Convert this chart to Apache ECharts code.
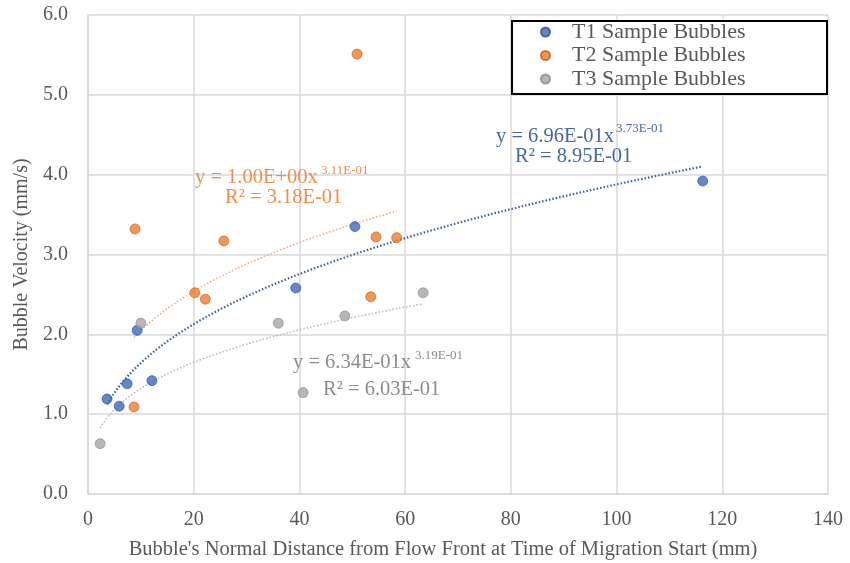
<!DOCTYPE html>
<html><head><meta charset="utf-8">
<script src="https://cdn.jsdelivr.net/npm/echarts@6/dist/echarts.min.js"></script>
<style>html,body{margin:0;padding:0;background:#fff}#c{width:850px;height:563px}</style>
</head><body><div id="c"></div>
<script>
const seriesNames = ['T1 Sample Bubbles', 'T2 Sample Bubbles', 'T3 Sample Bubbles'];
const t1X = [3.6, 5.9, 7.4, 9.3, 12.1, 39.3, 50.5, 116.3];
const t1Y = [1.19, 1.10, 1.38, 2.05, 1.42, 2.58, 3.35, 3.92];
const t2X = [8.9, 8.7, 20.2, 22.2, 25.7, 50.9, 53.5, 54.5, 58.4];
const t2Y = [3.32, 1.09, 2.52, 2.44, 3.17, 5.51, 2.47, 3.22, 3.21];
const t3X = [2.3, 10.0, 36.0, 40.7, 48.6, 63.4];
const t3Y = [0.63, 2.14, 2.14, 1.27, 2.23, 2.52];
const trendA = [0.696, 1.00, 0.634];
const trendB = [0.373, 0.311, 0.319];
const trendAText = ['6.96E-01', '1.00E+00', '6.34E-01'];
const trendBText = ['3.73E-01', '3.11E-01', '3.19E-01'];
const r2Text = ['8.95E-01', '3.18E-01', '6.03E-01'];
const xAxisName = "Bubble's Normal Distance from Flow Front at Time of Migration Start (mm)";
const yAxisName = 'Bubble Velocity (mm/s)';

const colors = ['#4068BE', '#ED7D31', '#A5A5A5'];
const borders = ['#2F4F8F', '#C55A11', '#888888'];
const trendColors = ['#3B5C9E', '#F0A878', '#B7B7B7'];
const trendWidths = [2.2, 1.5, 1.5];
const FONT = '"Liberation Serif", "Times New Roman", serif';
const TXT = '#595959';

const xs = [t1X, t2X, t3X], ys = [t1Y, t2Y, t3Y];
const series = [];
xs.forEach((X, i) => {
  series.push({
    name: seriesNames[i], type: 'scatter', symbolSize: 10, z: 5,
    itemStyle: { color: colors[i], borderColor: borders[i], borderWidth: 0.8 },
    data: X.map((x, k) => [x, ys[i][k]])
  });
});
xs.forEach((X, i) => {
  const lo = Math.min(...X), hi = Math.max(...X), n = 120;
  const pts = [];
  for (let k = 0; k <= n; k++) {
    const x = lo + (hi - lo) * k / n;
    pts.push([x, trendA[i] * Math.pow(x, trendB[i])]);
  }
  series.push({
    type: 'line', showSymbol: false, silent: true, z: 3,
    lineStyle: { color: trendColors[i], width: trendWidths[i], type: [1.5, 2] },
    data: pts
  });
});

const labelPos = [
  { x: 496, y: 136, sx: 616, sy: 129, rx: 515, ry: 156 },
  { x: 195, y: 177, sx: 321, sy: 171, rx: 225, ry: 197 },
  { x: 293, y: 362, sx: 415, sy: 356, rx: 323, ry: 389 }
];
const labelColors = ['#44699F', '#EE8F4F', '#8C8C8C'];
const graphics = [];
labelPos.forEach((p, i) => {
  graphics.push({ type: 'text', left: p.x, top: p.y - 10, z: 10,
    style: { text: 'y = ' + trendAText[i] + 'x', font: '20.5px ' + FONT, fill: labelColors[i] } });
  graphics.push({ type: 'text', left: p.sx, top: p.sy - 7, z: 10,
    style: { text: trendBText[i], font: '13px ' + FONT, fill: labelColors[i] } });
  graphics.push({ type: 'text', left: p.rx, top: p.ry - 10, z: 10,
    style: { text: 'R² = ' + r2Text[i], font: '20.5px ' + FONT, fill: labelColors[i] } });
});
graphics.push({ type: 'rect', left: 511, top: 20, z: 8,
  shape: { width: 315, height: 73 }, style: { fill: '#fff', stroke: '#000', lineWidth: 2 } });

const chart = echarts.init(document.getElementById('c'));
chart.setOption({
  animation: false,
  backgroundColor: '#fff',
  textStyle: { fontFamily: FONT },
  grid: { left: 88, right: 22, top: 15, bottom: 69, containLabel: false, outerBoundsMode: 'none' },
  legend: {
    data: seriesNames, orient: 'vertical', left: 540, top: 21, z: 12, padding: 0,
    itemWidth: 9, itemHeight: 9, itemGap: 1.5, icon: 'circle',
    textStyle: { fontFamily: FONT, fontSize: 22, color: TXT, padding: [0, 0, 0, 17] }
  },
  xAxis: {
    type: 'value', min: 0, max: 140, interval: 20,
    name: xAxisName, nameLocation: 'middle', nameGap: 45,
    nameTextStyle: { fontFamily: FONT, fontSize: 20.5, color: TXT, padding: [0, 30, 0, 0] },
    axisLine: { show: true, lineStyle: { color: '#D9D9D9', width: 1.5 } },
    axisTick: { show: false },
    axisLabel: { fontFamily: FONT, fontSize: 20, color: TXT, margin: 16 },
    splitLine: { show: true, lineStyle: { color: '#D9D9D9', width: 1.5 } }
  },
  yAxis: {
    type: 'value', min: 0, max: 6, interval: 1,
    name: yAxisName, nameLocation: 'middle', nameGap: 54,
    nameTextStyle: { fontFamily: FONT, fontSize: 20, color: TXT },
    axisLine: { show: true, lineStyle: { color: '#D9D9D9', width: 1.5 } },
    axisTick: { show: false },
    axisLabel: { fontFamily: FONT, fontSize: 20, color: TXT, margin: 20, formatter: v => v.toFixed(1) },
    splitLine: { show: true, lineStyle: { color: '#D9D9D9', width: 1.5 } }
  },
  graphic: graphics,
  series: series
});
</script>
</body></html>
